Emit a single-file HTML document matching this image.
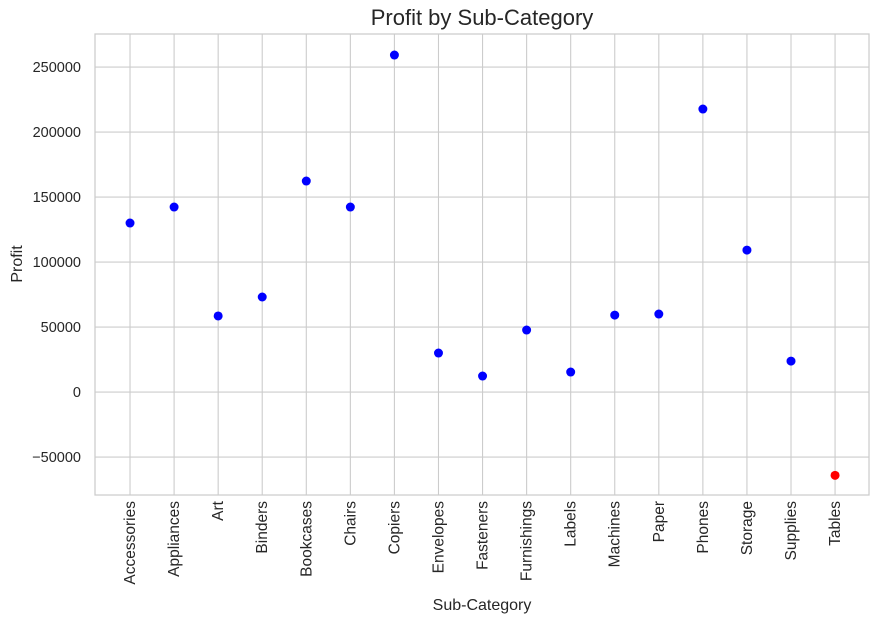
<!DOCTYPE html>
<html><head><meta charset="utf-8"><style>
body{margin:0;background:#fff;font-family:"Liberation Sans","DejaVu Sans",sans-serif;}
svg text{fill:#262626;font-family:"Liberation Sans","DejaVu Sans",sans-serif;}
</style></head><body>
<svg id="chart" width="880" height="623" xmlns="http://www.w3.org/2000/svg">
<text x="482" y="25" text-anchor="middle" font-size="22">Profit by Sub-Category</text>
<text x="482" y="610" text-anchor="middle" font-size="16">Sub-Category</text>
<text transform="translate(22,264) rotate(-90)" text-anchor="middle" font-size="16">Profit</text>
<g id="grid"></g><g id="marks"></g><g id="ticks"></g>
<rect x="95" y="34" width="774" height="461" fill="none" stroke="#cccccc" stroke-width="1.25"/>
</svg>
<script>
const categories=["Accessories","Appliances","Art","Binders","Bookcases","Chairs","Copiers","Envelopes","Fasteners","Furnishings","Labels","Machines","Paper","Phones","Storage","Supplies","Tables"];
const profits=[130000,142300,58500,73100,162300,142300,259200,30000,12300,47700,15400,59200,60000,217700,109200,23800,-64083];
const yTicks=[-50000,0,50000,100000,150000,200000,250000];
const L=95,R=869,T=34,B=495;
const xMin=-0.795,xMax=16.77,yMin=-79200,yMax=275400;
const xs=i=>L+(i-xMin)/(xMax-xMin)*(R-L);
const ys=v=>B-(v-yMin)/(yMax-yMin)*(B-T);
const NS="http://www.w3.org/2000/svg";
const grid=document.getElementById('grid'),marks=document.getElementById('marks'),ticks=document.getElementById('ticks');
function mk(tag,attrs,parent){const e=document.createElementNS(NS,tag);for(const k in attrs)e.setAttribute(k,attrs[k]);parent.appendChild(e);return e;}
yTicks.forEach(v=>{
 const l=mk('line',{x1:L,x2:R,y1:ys(v),y2:ys(v),stroke:'#cccccc','stroke-width':1.1},grid);
 
 
 const t=mk('text',{x:L-14,y:ys(v)+5,'text-anchor':'end','font-size':14.5},ticks);
 t.textContent=String(v).replace('-','\u2212');
 
 
});
categories.forEach((c,i)=>{
 const x=xs(i);
 const l=mk('line',{x1:x,x2:x,y1:T,y2:B,stroke:'#cccccc','stroke-width':1.1},grid);
 
 
 const t=mk('text',{transform:`translate(${x+5},${B+6}) rotate(-90)`,'text-anchor':'end','font-size':15.5},ticks);
 t.textContent=c;
 
 
 const p=mk('circle',{cx:x,cy:ys(profits[i]),r:4.5,fill:profits[i]<0?'#ff0000':'#0000ff'},marks);
 
 
});
</script>
</body></html>
